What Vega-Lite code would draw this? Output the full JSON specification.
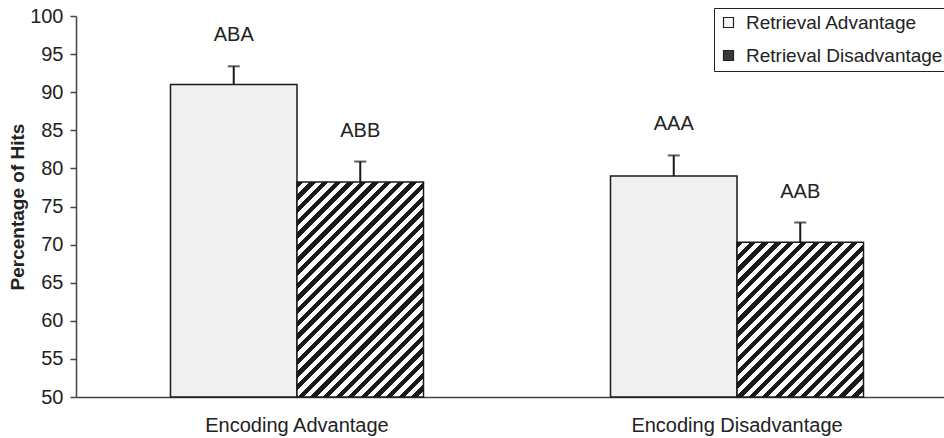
{
  "$schema": "https://vega.github.io/schema/vega-lite/v6.json",
  "width": 868,
  "height": 381,
  "autosize": "none",
  "padding": {"left": 76, "top": 16, "right": 0, "bottom": 41},
  "config": {"font": "Liberation Sans", "view": {"stroke": null}},
  "data": {"values": [
    {"group": "Encoding Advantage", "series": "Retrieval Advantage", "value": 91.0, "upper": 93.4, "label": "ABA"},
    {"group": "Encoding Advantage", "series": "Retrieval Disadvantage", "value": 78.2, "upper": 80.9, "label": "ABB"},
    {"group": "Encoding Disadvantage", "series": "Retrieval Advantage", "value": 79.0, "upper": 81.7, "label": "AAA"},
    {"group": "Encoding Disadvantage", "series": "Retrieval Disadvantage", "value": 70.3, "upper": 72.9, "label": "AAB"}
  ]},
  "encoding": {
    "x": {"field": "group", "type": "nominal", "sort": ["Encoding Advantage", "Encoding Disadvantage"],
      "scale": {"paddingInner": 0.425, "paddingOuter": 0.19886, "align": 0.54},
      "axis": {"title": null, "labelAngle": 0, "ticks": false, "tickSize": 0, "labelFontSize": 20, "labelColor": "#222", "labelPadding": 18, "labelLimit": 400, "domainColor": "#444", "domainWidth": 1.5}},
    "xOffset": {"field": "series", "type": "nominal", "scale": {"domain": ["Retrieval Advantage", "Retrieval Disadvantage"], "paddingInner": 0, "paddingOuter": 0}},
    "y": {"field": "value", "type": "quantitative",
      "scale": {"domain": [50, 100], "zero": false, "nice": false},
      "axis": {"title": "Percentage of Hits", "titleFontSize": 19, "titleFontWeight": "bold", "titleColor": "#222", "titlePadding": 2,
        "labelFontSize": 20, "labelColor": "#222", "labelPadding": 7, "tickSize": 6, "tickColor": "#444", "tickWidth": 1.5,
        "domainColor": "#444", "domainWidth": 1.5, "grid": false,
        "values": [50, 55, 60, 65, 70, 75, 80, 85, 90, 95, 100]}}
  },
  "layer": [
    {
      "mark": {"type": "square", "opacity": 0, "stroke": "#222"},
      "encoding": {
        "fill": {"field": "series", "type": "nominal",
          "scale": {"domain": ["Retrieval Advantage", "Retrieval Disadvantage"], "range": ["#f7f7f7", "#3a3a3a"]},
          "legend": {"orient": "none", "legendX": 638, "legendY": -8, "title": null, "strokeColor": "#222", "fillColor": "white",
            "padding": 5, "labelFontSize": 19, "labelColor": "#222", "symbolType": "square", "symbolSize": 100, "labelLimit": 400,
            "rowPadding": 13, "labelOffset": 8, "symbolStrokeColor": "#222", "symbolStrokeWidth": 1.2, "symbolOpacity": 1}}
      }
    },
    {
      "transform": [{"filter": "datum.series === 'Retrieval Advantage'"}],
      "mark": {"type": "bar", "fill": "#f0f0f0", "stroke": "#1a1a1a", "strokeWidth": 1.5},
      "encoding": {"y2": {"datum": 50}}
    },
    {
      "transform": [{"filter": "datum.series === 'Retrieval Disadvantage' && datum.group === 'Encoding Advantage'"}],
      "mark": {"type": "bar", "stroke": "#1a1a1a", "strokeWidth": 1.5,
        "fill": {"gradient": "linear", "x1": 0, "y1": 0, "x2": 0.6946, "y2": 1.18, "stops": [
          {"offset": 0, "color": "#1a1a1a"}, {"offset": 0.018519, "color": "#1a1a1a"}, {"offset": 0.018519, "color": "#ffffff"}, {"offset": 0.037037, "color": "#ffffff"},
          {"offset": 0.037037, "color": "#1a1a1a"}, {"offset": 0.055556, "color": "#1a1a1a"}, {"offset": 0.055556, "color": "#ffffff"}, {"offset": 0.074074, "color": "#ffffff"},
          {"offset": 0.074074, "color": "#1a1a1a"}, {"offset": 0.092593, "color": "#1a1a1a"}, {"offset": 0.092593, "color": "#ffffff"}, {"offset": 0.111111, "color": "#ffffff"},
          {"offset": 0.111111, "color": "#1a1a1a"}, {"offset": 0.12963, "color": "#1a1a1a"}, {"offset": 0.12963, "color": "#ffffff"}, {"offset": 0.148148, "color": "#ffffff"},
          {"offset": 0.148148, "color": "#1a1a1a"}, {"offset": 0.166667, "color": "#1a1a1a"}, {"offset": 0.166667, "color": "#ffffff"}, {"offset": 0.185185, "color": "#ffffff"},
          {"offset": 0.185185, "color": "#1a1a1a"}, {"offset": 0.203704, "color": "#1a1a1a"}, {"offset": 0.203704, "color": "#ffffff"}, {"offset": 0.222222, "color": "#ffffff"},
          {"offset": 0.222222, "color": "#1a1a1a"}, {"offset": 0.240741, "color": "#1a1a1a"}, {"offset": 0.240741, "color": "#ffffff"}, {"offset": 0.259259, "color": "#ffffff"},
          {"offset": 0.259259, "color": "#1a1a1a"}, {"offset": 0.277778, "color": "#1a1a1a"}, {"offset": 0.277778, "color": "#ffffff"}, {"offset": 0.296296, "color": "#ffffff"},
          {"offset": 0.296296, "color": "#1a1a1a"}, {"offset": 0.314815, "color": "#1a1a1a"}, {"offset": 0.314815, "color": "#ffffff"}, {"offset": 0.333333, "color": "#ffffff"},
          {"offset": 0.333333, "color": "#1a1a1a"}, {"offset": 0.351852, "color": "#1a1a1a"}, {"offset": 0.351852, "color": "#ffffff"}, {"offset": 0.37037, "color": "#ffffff"},
          {"offset": 0.37037, "color": "#1a1a1a"}, {"offset": 0.388889, "color": "#1a1a1a"}, {"offset": 0.388889, "color": "#ffffff"}, {"offset": 0.407407, "color": "#ffffff"},
          {"offset": 0.407407, "color": "#1a1a1a"}, {"offset": 0.425926, "color": "#1a1a1a"}, {"offset": 0.425926, "color": "#ffffff"}, {"offset": 0.444444, "color": "#ffffff"},
          {"offset": 0.444444, "color": "#1a1a1a"}, {"offset": 0.462963, "color": "#1a1a1a"}, {"offset": 0.462963, "color": "#ffffff"}, {"offset": 0.481481, "color": "#ffffff"},
          {"offset": 0.481481, "color": "#1a1a1a"}, {"offset": 0.5, "color": "#1a1a1a"}, {"offset": 0.5, "color": "#ffffff"}, {"offset": 0.518519, "color": "#ffffff"},
          {"offset": 0.518519, "color": "#1a1a1a"}, {"offset": 0.537037, "color": "#1a1a1a"}, {"offset": 0.537037, "color": "#ffffff"}, {"offset": 0.555556, "color": "#ffffff"},
          {"offset": 0.555556, "color": "#1a1a1a"}, {"offset": 0.574074, "color": "#1a1a1a"}, {"offset": 0.574074, "color": "#ffffff"}, {"offset": 0.592593, "color": "#ffffff"},
          {"offset": 0.592593, "color": "#1a1a1a"}, {"offset": 0.611111, "color": "#1a1a1a"}, {"offset": 0.611111, "color": "#ffffff"}, {"offset": 0.62963, "color": "#ffffff"},
          {"offset": 0.62963, "color": "#1a1a1a"}, {"offset": 0.648148, "color": "#1a1a1a"}, {"offset": 0.648148, "color": "#ffffff"}, {"offset": 0.666667, "color": "#ffffff"},
          {"offset": 0.666667, "color": "#1a1a1a"}, {"offset": 0.685185, "color": "#1a1a1a"}, {"offset": 0.685185, "color": "#ffffff"}, {"offset": 0.703704, "color": "#ffffff"},
          {"offset": 0.703704, "color": "#1a1a1a"}, {"offset": 0.722222, "color": "#1a1a1a"}, {"offset": 0.722222, "color": "#ffffff"}, {"offset": 0.740741, "color": "#ffffff"},
          {"offset": 0.740741, "color": "#1a1a1a"}, {"offset": 0.759259, "color": "#1a1a1a"}, {"offset": 0.759259, "color": "#ffffff"}, {"offset": 0.777778, "color": "#ffffff"},
          {"offset": 0.777778, "color": "#1a1a1a"}, {"offset": 0.796296, "color": "#1a1a1a"}, {"offset": 0.796296, "color": "#ffffff"}, {"offset": 0.814815, "color": "#ffffff"},
          {"offset": 0.814815, "color": "#1a1a1a"}, {"offset": 0.833333, "color": "#1a1a1a"}, {"offset": 0.833333, "color": "#ffffff"}, {"offset": 0.851852, "color": "#ffffff"},
          {"offset": 0.851852, "color": "#1a1a1a"}, {"offset": 0.87037, "color": "#1a1a1a"}, {"offset": 0.87037, "color": "#ffffff"}, {"offset": 0.888889, "color": "#ffffff"},
          {"offset": 0.888889, "color": "#1a1a1a"}, {"offset": 0.907407, "color": "#1a1a1a"}, {"offset": 0.907407, "color": "#ffffff"}, {"offset": 0.925926, "color": "#ffffff"},
          {"offset": 0.925926, "color": "#1a1a1a"}, {"offset": 0.944444, "color": "#1a1a1a"}, {"offset": 0.944444, "color": "#ffffff"}, {"offset": 0.962963, "color": "#ffffff"},
          {"offset": 0.962963, "color": "#1a1a1a"}, {"offset": 0.981481, "color": "#1a1a1a"}, {"offset": 0.981481, "color": "#ffffff"}, {"offset": 1, "color": "#ffffff"}
        ]}},
      "encoding": {"y2": {"datum": 50}}
    },
    {
      "transform": [{"filter": "datum.series === 'Retrieval Disadvantage' && datum.group === 'Encoding Disadvantage'"}],
      "mark": {"type": "bar", "stroke": "#1a1a1a", "strokeWidth": 1.5,
        "fill": {"gradient": "linear", "x1": 0, "y1": 0, "x2": 0.8907, "y2": 1.0893, "stops": [
          {"offset": 0, "color": "#1a1a1a"}, {"offset": 0.022727, "color": "#1a1a1a"}, {"offset": 0.022727, "color": "#ffffff"}, {"offset": 0.045455, "color": "#ffffff"},
          {"offset": 0.045455, "color": "#1a1a1a"}, {"offset": 0.068182, "color": "#1a1a1a"}, {"offset": 0.068182, "color": "#ffffff"}, {"offset": 0.090909, "color": "#ffffff"},
          {"offset": 0.090909, "color": "#1a1a1a"}, {"offset": 0.113636, "color": "#1a1a1a"}, {"offset": 0.113636, "color": "#ffffff"}, {"offset": 0.136364, "color": "#ffffff"},
          {"offset": 0.136364, "color": "#1a1a1a"}, {"offset": 0.159091, "color": "#1a1a1a"}, {"offset": 0.159091, "color": "#ffffff"}, {"offset": 0.181818, "color": "#ffffff"},
          {"offset": 0.181818, "color": "#1a1a1a"}, {"offset": 0.204545, "color": "#1a1a1a"}, {"offset": 0.204545, "color": "#ffffff"}, {"offset": 0.227273, "color": "#ffffff"},
          {"offset": 0.227273, "color": "#1a1a1a"}, {"offset": 0.25, "color": "#1a1a1a"}, {"offset": 0.25, "color": "#ffffff"}, {"offset": 0.272727, "color": "#ffffff"},
          {"offset": 0.272727, "color": "#1a1a1a"}, {"offset": 0.295455, "color": "#1a1a1a"}, {"offset": 0.295455, "color": "#ffffff"}, {"offset": 0.318182, "color": "#ffffff"},
          {"offset": 0.318182, "color": "#1a1a1a"}, {"offset": 0.340909, "color": "#1a1a1a"}, {"offset": 0.340909, "color": "#ffffff"}, {"offset": 0.363636, "color": "#ffffff"},
          {"offset": 0.363636, "color": "#1a1a1a"}, {"offset": 0.386364, "color": "#1a1a1a"}, {"offset": 0.386364, "color": "#ffffff"}, {"offset": 0.409091, "color": "#ffffff"},
          {"offset": 0.409091, "color": "#1a1a1a"}, {"offset": 0.431818, "color": "#1a1a1a"}, {"offset": 0.431818, "color": "#ffffff"}, {"offset": 0.454545, "color": "#ffffff"},
          {"offset": 0.454545, "color": "#1a1a1a"}, {"offset": 0.477273, "color": "#1a1a1a"}, {"offset": 0.477273, "color": "#ffffff"}, {"offset": 0.5, "color": "#ffffff"},
          {"offset": 0.5, "color": "#1a1a1a"}, {"offset": 0.522727, "color": "#1a1a1a"}, {"offset": 0.522727, "color": "#ffffff"}, {"offset": 0.545455, "color": "#ffffff"},
          {"offset": 0.545455, "color": "#1a1a1a"}, {"offset": 0.568182, "color": "#1a1a1a"}, {"offset": 0.568182, "color": "#ffffff"}, {"offset": 0.590909, "color": "#ffffff"},
          {"offset": 0.590909, "color": "#1a1a1a"}, {"offset": 0.613636, "color": "#1a1a1a"}, {"offset": 0.613636, "color": "#ffffff"}, {"offset": 0.636364, "color": "#ffffff"},
          {"offset": 0.636364, "color": "#1a1a1a"}, {"offset": 0.659091, "color": "#1a1a1a"}, {"offset": 0.659091, "color": "#ffffff"}, {"offset": 0.681818, "color": "#ffffff"},
          {"offset": 0.681818, "color": "#1a1a1a"}, {"offset": 0.704545, "color": "#1a1a1a"}, {"offset": 0.704545, "color": "#ffffff"}, {"offset": 0.727273, "color": "#ffffff"},
          {"offset": 0.727273, "color": "#1a1a1a"}, {"offset": 0.75, "color": "#1a1a1a"}, {"offset": 0.75, "color": "#ffffff"}, {"offset": 0.772727, "color": "#ffffff"},
          {"offset": 0.772727, "color": "#1a1a1a"}, {"offset": 0.795455, "color": "#1a1a1a"}, {"offset": 0.795455, "color": "#ffffff"}, {"offset": 0.818182, "color": "#ffffff"},
          {"offset": 0.818182, "color": "#1a1a1a"}, {"offset": 0.840909, "color": "#1a1a1a"}, {"offset": 0.840909, "color": "#ffffff"}, {"offset": 0.863636, "color": "#ffffff"},
          {"offset": 0.863636, "color": "#1a1a1a"}, {"offset": 0.886364, "color": "#1a1a1a"}, {"offset": 0.886364, "color": "#ffffff"}, {"offset": 0.909091, "color": "#ffffff"},
          {"offset": 0.909091, "color": "#1a1a1a"}, {"offset": 0.931818, "color": "#1a1a1a"}, {"offset": 0.931818, "color": "#ffffff"}, {"offset": 0.954545, "color": "#ffffff"},
          {"offset": 0.954545, "color": "#1a1a1a"}, {"offset": 0.977273, "color": "#1a1a1a"}, {"offset": 0.977273, "color": "#ffffff"}, {"offset": 1, "color": "#ffffff"}
        ]}},
      "encoding": {"y2": {"datum": 50}}
    },
    {
      "mark": {"type": "rule", "stroke": "#1a1a1a", "strokeWidth": 2},
      "encoding": {"y2": {"field": "upper"}}
    },
    {
      "mark": {"type": "tick", "color": "#1a1a1a", "thickness": 2, "size": 12, "orient": "horizontal"},
      "encoding": {"y": {"field": "upper", "type": "quantitative"}}
    },
    {
      "mark": {"type": "text", "fontSize": 20, "color": "#222", "baseline": "middle", "dy": -31},
      "encoding": {"y": {"field": "upper", "type": "quantitative"}, "text": {"field": "label", "type": "nominal"}}
    }
  ]
}
